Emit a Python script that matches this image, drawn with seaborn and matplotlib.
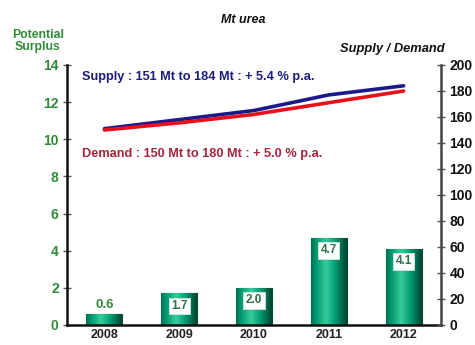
import numpy as np
import pandas as pd
import matplotlib
matplotlib.use("Agg")
import matplotlib.pyplot as plt
import seaborn as sns

years = ["2008", "2009", "2010", "2011", "2012"]
surplus = [0.6, 1.7, 2.0, 4.7, 4.1]
supply = [151, 158, 165, 177, 184]
demand = [150, 155.5, 162, 171, 180]
left_ticks = [0, 2, 4, 6, 8, 10, 12, 14]
right_ticks = [0, 20, 40, 60, 80, 100, 120, 140, 160, 180, 200]

sns.set_theme(style="white")
plt.rcParams["font.family"] = ["Liberation Sans", "DejaVu Sans"]

GREEN_TXT = "#2f8a3a"
NAVY = "#1c1c7a"
MAROON = "#a4243c"

fig = plt.figure(figsize=(4.75, 3.45), dpi=100)
ax = fig.add_axes([67 / 475, 20 / 345, 374 / 475, 260 / 345])

df = pd.DataFrame({"year": years, "surplus": surplus})
sns.barplot(data=df, x="year", y="surplus", ax=ax, width=0.48,
            color="#00916a", edgecolor="#004a30", linewidth=0.8, saturation=1)

# cylinder shading on each bar
grad = np.linspace(0, 1, 64)
shade = 1 - np.abs(grad - 0.42) * 1.8
cmap = matplotlib.colors.LinearSegmentedColormap.from_list(
    "cyl", ["#004a34", "#009a70", "#36cc9c"])
for p in ax.patches:
    x0, y0 = p.get_x(), p.get_y()
    w, h = p.get_width(), p.get_height()
    im = ax.imshow(shade[np.newaxis, :], cmap=cmap, aspect="auto",
                   extent=[x0, x0 + w, y0, y0 + h], zorder=p.get_zorder() + 0.1,
                   vmin=0, vmax=1, interpolation="bicubic")
    im.set_clip_path(p)

ax.set_xlim(-0.5, 4.5)
ax.set_ylim(0, 14)
ax.set_yticks(left_ticks)
ax.set_yticklabels([str(t) for t in left_ticks], color=GREEN_TXT,
                   fontweight="bold", fontsize=10)
ax.set_xlabel("")
ax.set_ylabel("")
ax.set_xticks(range(len(years)))
ax.set_xticklabels(years, fontweight="bold", fontsize=9, color="#222222")
ax.set_xticks(np.arange(-0.5, 4.6, 1), minor=True)
ax.tick_params(axis="x", which="major", length=0, pad=3)
ax.tick_params(axis="x", which="minor", length=6, width=1, direction="inout",
               color="#555555")
ax.tick_params(axis="y", length=6, width=1, direction="inout", color="#555555",
               pad=3)
for side in ["top", "right"]:
    ax.spines[side].set_visible(False)
ax.spines["left"].set_color("#111111")
ax.spines["left"].set_linewidth(1.8)
ax.spines["bottom"].set_color("#111111")
ax.spines["bottom"].set_linewidth(1.8)

# value labels
for i, v in enumerate(surplus):
    if v < 1:
        ax.annotate(f"{v:.1f}", (i, v), xytext=(0, 2), textcoords="offset points",
                    ha="center", va="bottom", fontsize=9.5, fontweight="bold",
                    color=GREEN_TXT, zorder=5)
    else:
        ax.annotate(f"{v:.1f}", (i, v), xytext=(0, -9), textcoords="offset points",
                    ha="center", va="center", fontsize=8.5, fontweight="bold",
                    color="#2c6f4a", zorder=5,
                    bbox=dict(boxstyle="square,pad=0.2", fc="white", ec="#cfe8dc",
                              lw=0.6))

ax2 = ax.twinx()
lines = pd.DataFrame({"x": list(range(5)) * 2,
                      "value": supply + demand,
                      "series": ["Supply"] * 5 + ["Demand"] * 5})
sns.lineplot(data=lines, x="x", y="value", hue="series",
             palette={"Supply": "#1a1a8c", "Demand": "#e8101a"},
             linewidth=2.6, ax=ax2, legend=False, zorder=3)
ax2.set_ylim(0, 200)
ax2.set_xlim(-0.5, 4.5)
ax2.set_yticks(right_ticks)
ax2.set_yticklabels([str(t) for t in right_ticks], fontweight="bold",
                    fontsize=10, color="#111111")
ax2.set_xlabel("")
ax2.set_ylabel("")
ax2.tick_params(axis="y", length=6, width=1, direction="inout", color="#555555",
                pad=3)
for side in ["top", "left", "bottom"]:
    ax2.spines[side].set_visible(False)
ax2.spines["right"].set_color("#444444")
ax2.spines["right"].set_linewidth(1.8)

fig.text(82 / 475, 1 - 77 / 345, "Supply : 151 Mt to 184 Mt : + 5.4 % p.a.",
         color=NAVY, fontsize=9.2, fontweight="bold", va="center", ha="left")
fig.text(82 / 475, 1 - 154 / 345, "Demand : 150 Mt to 180 Mt : + 5.0 % p.a.",
         color=MAROON, fontsize=9.2, fontweight="bold", va="center", ha="left")
fig.text(243 / 475, 1 - 20 / 345, "Mt urea", fontsize=9, fontweight="bold",
         fontstyle="italic", ha="center", va="center", color="#111111")
fig.text(38 / 475, 1 - 41 / 345, "Potential\nSurplus", fontsize=8.8,
         fontweight="bold", ha="center", va="center", color=GREEN_TXT,
         linespacing=1.1)
fig.text(392 / 475, 1 - 49 / 345, "Supply / Demand", fontsize=9.3,
         fontweight="bold", fontstyle="italic", ha="center", va="center",
         color="#111111")

fig.savefig("out.png", dpi=100)
